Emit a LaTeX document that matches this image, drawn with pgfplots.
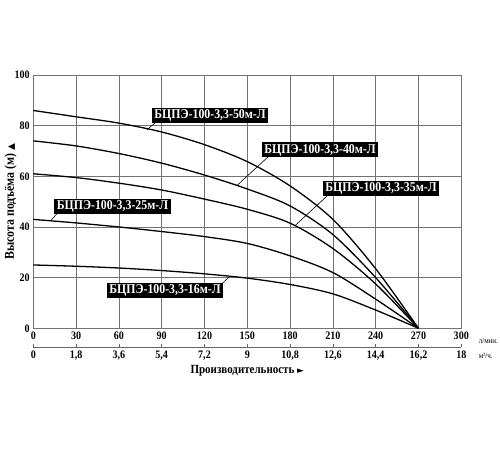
\documentclass[border=0pt]{standalone}
\usepackage{fontspec}
\setmainfont{Liberation Serif}[FakeStretch=0.88]
\newfontfamily\symfont{DejaVu Sans}
\usepackage{pgfplots}
\pgfplotsset{compat=1.18}
\begin{document}
\begin{tikzpicture}
\useasboundingbox (-33.3bp,-121.7bp) rectangle (466.7bp,328.3bp);
\begin{axis}[
  name=main, at={(0,0)}, anchor=south west,
  scale only axis, width=428bp, height=253.3bp,
  xmin=0, xmax=300, ymin=0, ymax=100,
  xtick={0,30,...,300}, ytick={0,20,...,100},
  grid=major, grid style={black!55, line width=0.7pt},
  axis line style={black!55, line width=0.8pt},
  major tick length=0pt,
  /pgf/number format/assume math mode=true,
  ticklabel style={font=\fontsize{11.5}{12}\selectfont\bfseries},
  ylabel={Высота подъёма (м) {\symfont\fontsize{9}{10}\selectfont▲}},
  ylabel style={font=\fontsize{13.5}{14}\selectfont\bfseries, yshift=-9bp},
  clip=false,
]
\addplot[smooth, black, line width=1.3pt] coordinates {(0,86)(30,83.5)(60,81)(90,77.5)(120,72.5)(150,65.8)(180,56.2)(210,43)(240,23.5)(270,0)};
\addplot[smooth, black, line width=1.3pt] coordinates {(0,74)(30,72)(60,69)(90,65.2)(120,60.5)(150,55)(180,48.3)(210,37)(240,20)(270,0)};
\addplot[smooth, black, line width=1.3pt] coordinates {(0,61)(30,59.5)(60,57.3)(90,54.6)(120,51)(150,47)(180,41.5)(210,31.5)(240,17.5)(270,0)};
\addplot[smooth, black, line width=1.3pt] coordinates {(0,43)(30,41.6)(60,40)(90,38.2)(120,36.2)(150,33.5)(180,28.6)(210,22)(240,11.5)(270,0)};
\addplot[smooth, black, line width=1.3pt] coordinates {(0,25)(30,24.5)(60,23.8)(90,22.8)(120,21.5)(150,19.8)(180,17.3)(210,13.6)(240,7.2)(270,0)};
\draw[black, line width=0.6pt] (axis cs:86,81.4) -- (axis cs:79.5,78.3);
\draw[black, line width=0.6pt] (axis cs:164.4,67.6) -- (axis cs:142.8,56.4);
\draw[black, line width=0.6pt] (axis cs:206.6,52.6) -- (axis cs:183.4,40.5);
\draw[black, line width=0.6pt] (axis cs:16.8,45.4) -- (axis cs:12.2,42.5);
\draw[black, line width=0.6pt] (axis cs:132,17.5) -- (axis cs:137.9,20.6);
\tikzset{lbl/.style={fill=black, text=white, inner xsep=2.5bp, inner ysep=1.6bp, font=\fontsize{13.5}{14}\selectfont\bfseries}}
\node[lbl] at (axis cs:123.9,84.2) {БЦПЭ-100-3,3-50м-Л};
\node[lbl] at (axis cs:201,70.4) {БЦПЭ-100-3,3-40м-Л};
\node[lbl] at (axis cs:243.7,55.2) {БЦПЭ-100-3,3-35м-Л};
\node[lbl] at (axis cs:55.5,48.0) {БЦПЭ-100-3,3-25м-Л};
\node[lbl] at (axis cs:92.3,15.1) {БЦПЭ-100-3,3-16м-Л};
\node[anchor=west, font=\fontsize{8}{9}\selectfont] at (rel axis cs:1,0) [xshift=14bp, yshift=-12.7bp] {л/мин.};
\end{axis}
\begin{axis}[
  at={(0,-18.7bp)}, anchor=south west,
  scale only axis, width=428bp, height=20bp,
  xmin=0, xmax=18, ymin=0, ymax=1,
  hide y axis, axis x line*=bottom,
  axis line style={black!60, line width=0.8pt, -},
  xtick={0,1.8,3.6,5.4,7.2,9,10.8,12.6,14.4,16.2,18},
  xticklabels={0,{1,8},{3,6},{5,4},{7,2},9,{10,8},{12,6},{14,4},{16,2},18},
  major tick length=2.5bp, tick align=inside,
  tick style={black!60, line width=0.6pt},
  xticklabel style={font=\fontsize{11.5}{12}\selectfont\bfseries},
  xlabel={Производительность {\symfont\fontsize{9}{10}\selectfont►}},
  xlabel style={font=\fontsize{12.5}{13}\selectfont\bfseries, yshift=1bp},
  clip=false,
]
\addplot[draw=none] coordinates {(0,0)(18,0)};
\node[anchor=west, font=\fontsize{8}{9}\selectfont] at (rel axis cs:1,0) [xshift=14bp, yshift=-9bp] {м³/ч.};
\end{axis}
\end{tikzpicture}
\end{document}
